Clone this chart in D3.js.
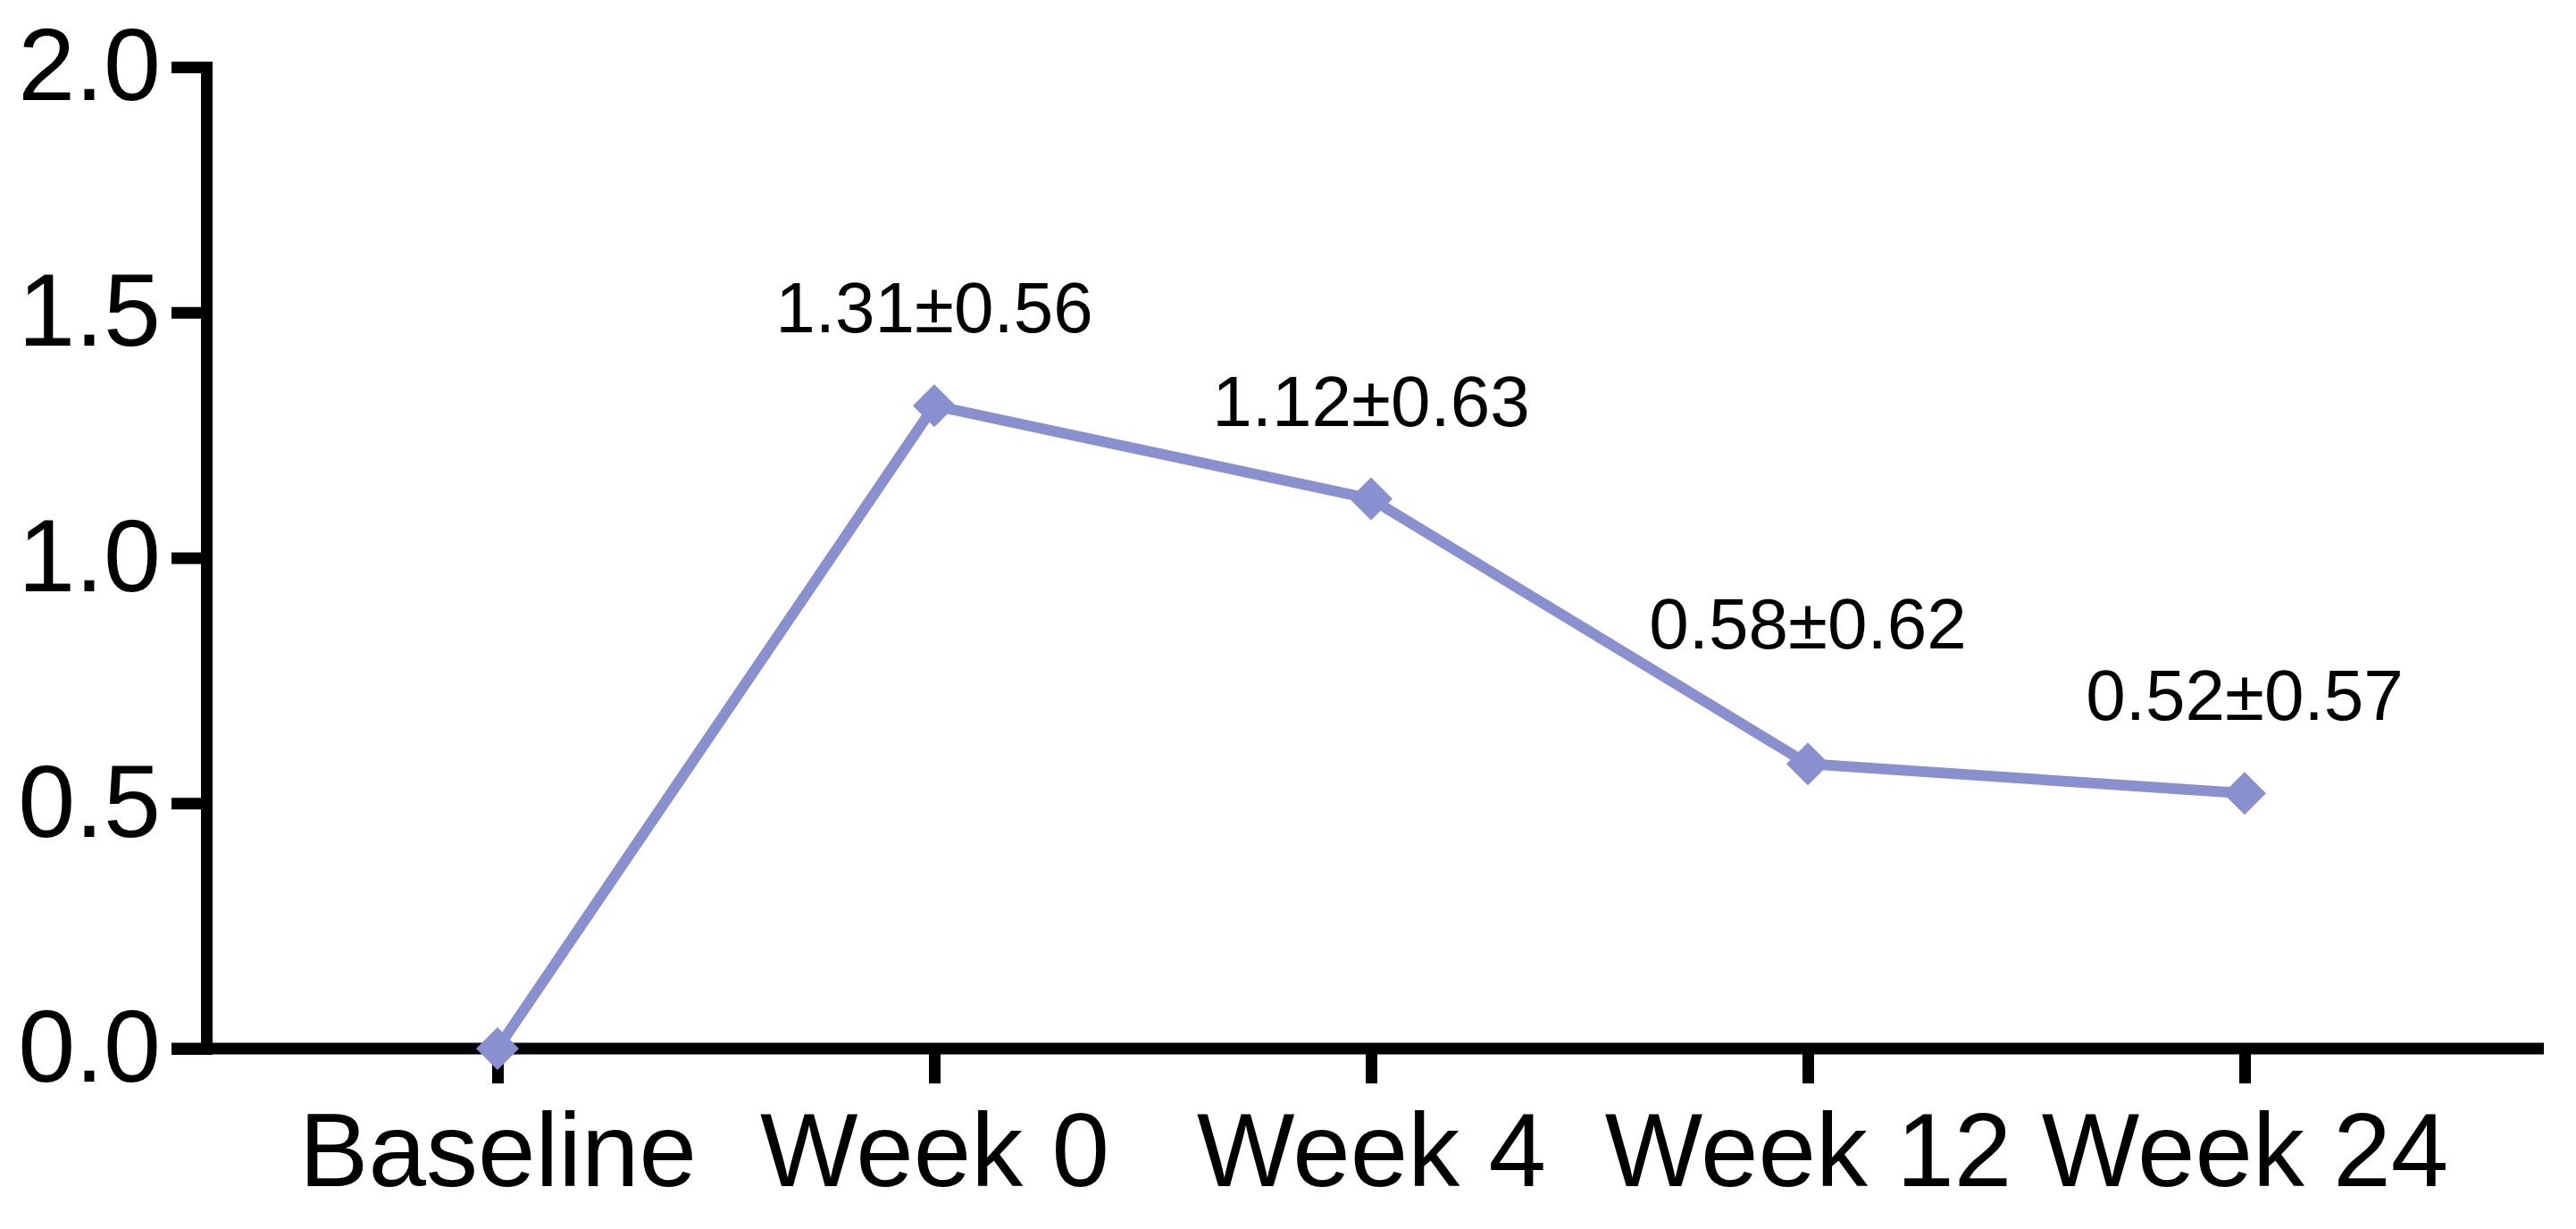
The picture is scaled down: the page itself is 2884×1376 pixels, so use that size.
<!DOCTYPE html>
<html>
<head>
<meta charset="utf-8">
<script src="https://cdn.jsdelivr.net/npm/d3@7"></script>
<style>
  html, body { margin: 0; padding: 0; background: #fff; }
  svg { display: block; }
</style>
</head>
<body>
<script>
// ---- data ----
const categories = ["Baseline", "Week 0", "Week 4", "Week 12", "Week 24"];
const means      = [0, 1.31, 1.12, 0.58, 0.52];
const sds        = [null, 0.56, 0.63, 0.62, 0.57];
const yTicks     = [0, 0.5, 1.0, 1.5, 2.0];

// ---- layout ----
const W = 2884, H = 1376;
const axisX = 231, axisY = 1174, yTop = 75;
const xFirst = 557, xLast = 2513, xAxisRight = 2848;
const tickLen = 39, axisW = 13;
const lineColor = "#8990CF";
const font = "'Liberation Sans', Arial, Helvetica, sans-serif";
const labelSize = 80, labelLift = 82, labelClear = 21;

const svg = d3.select("body").append("svg")
  .attr("width", W).attr("height", H);
svg.append("rect").attr("width", W).attr("height", H).attr("fill", "#fff");

const x = d3.scalePoint().domain(categories).range([xFirst, xLast]);
const y = d3.scaleLinear().domain([0, 2]).range([axisY, yTop]);

// x axis
const gx = svg.append("g").attr("transform", `translate(0,${axisY})`)
  .call(d3.axisBottom(x).tickSize(tickLen).tickSizeOuter(0).tickPadding(33));
gx.select(".domain").remove();
gx.selectAll(".tick line").attr("stroke", "#000").attr("stroke-width", axisW);
gx.selectAll(".tick text").attr("fill", "#000")
  .style("font-family", font).style("font-size", "116px");
gx.append("line")
  .attr("x1", axisX - tickLen).attr("x2", xAxisRight)
  .attr("y1", 0).attr("y2", 0)
  .attr("stroke", "#000").attr("stroke-width", axisW);

// y axis
const gy = svg.append("g").attr("transform", `translate(${axisX},0)`)
  .call(d3.axisLeft(y).tickValues(yTicks).tickFormat(d3.format(".1f"))
        .tickSize(tickLen).tickSizeOuter(0).tickPadding(12));
gy.select(".domain").attr("stroke", "#000").attr("stroke-width", axisW)
  .attr("stroke-linecap", "square");
gy.selectAll(".tick line").attr("stroke", "#000").attr("stroke-width", axisW);
gy.selectAll(".tick text").attr("fill", "#000")
  .style("font-family", font).style("font-size", "115px");

// line
const pts = categories.map((c, i) => ({ c, m: means[i], sd: sds[i] }));
svg.append("path")
  .datum(pts)
  .attr("fill", "none")
  .attr("stroke", lineColor)
  .attr("stroke-width", 12)
  .attr("stroke-linejoin", "miter")
  .attr("d", d3.line().x(d => x(d.c)).y(d => y(d.m)));

// diamond markers
svg.append("g").selectAll("path")
  .data(pts).join("path")
  .attr("transform", d => `translate(${x(d.c)},${y(d.m)}) rotate(45)`)
  .attr("d", d3.symbol().type(d3.symbolSquare).size(1152))
  .attr("fill", lineColor);

// screen y of the polyline at screen x
const px = pts.map(d => x(d.c)), py = pts.map(d => y(d.m));
function lineYAt(sx) {
  for (let i = 0; i < px.length - 1; i++) {
    if (sx >= px[i] && sx <= px[i + 1]) {
      const t = (sx - px[i]) / (px[i + 1] - px[i]);
      return py[i] + t * (py[i + 1] - py[i]);
    }
  }
  return sx < px[0] ? py[0] : py[py.length - 1];
}

// value labels (lifted to clear the line under their extent)
const labels = svg.append("g").selectAll("text")
  .data(pts.filter(d => d.sd !== null)).join("text")
  .attr("x", d => x(d.c))
  .attr("text-anchor", "middle")
  .style("font-family", font).style("font-size", labelSize + "px")
  .attr("fill", "#000")
  .text(d => `${d.m.toFixed(2)}±${d.sd.toFixed(2)}`);
labels.attr("y", function(d) {
  const w = this.getComputedTextLength();
  const cx = x(d.c);
  const top = Math.min(lineYAt(cx - w / 2), lineYAt(cx + w / 2), lineYAt(cx));
  return Math.min(y(d.m) - labelLift, top - labelClear);
});
</script>
</body>
</html>
